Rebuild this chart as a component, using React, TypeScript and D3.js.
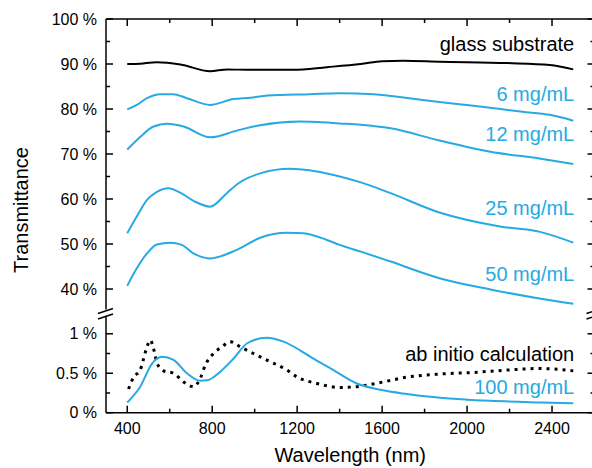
import React, { useRef, useEffect } from "react";
import * as d3 from "d3";

type Pt = [number, number];

// [wavelength nm, transmittance %]
const glassSubstrate: Pt[] = [
  [400, 90.0], [440, 90.0], [540, 90.4], [650, 89.9], [790, 88.4], [870, 88.8],
  [980, 88.7], [1180, 88.7], [1340, 89.3], [1500, 90.0], [1600, 90.6], [1700, 90.7],
  [1870, 90.5], [2190, 90.2], [2390, 89.8], [2500, 88.8],
];
const conc6: Pt[] = [
  [400, 79.9], [445, 80.9], [493, 82.4], [555, 83.3], [616, 83.3], [681, 82.4],
  [790, 80.9], [900, 82.2], [980, 82.5], [1060, 83.0], [1260, 83.3], [1400, 83.5],
  [1560, 83.3], [1790, 82.0], [2030, 80.7], [2260, 79.4], [2390, 78.7], [2500, 77.4],
];
const conc12: Pt[] = [
  [400, 71.0], [461, 73.8], [524, 76.1], [587, 76.7], [665, 76.1], [790, 73.7],
  [916, 75.2], [1026, 76.4], [1214, 77.2], [1300, 77.1], [1400, 76.8], [1500, 76.5],
  [1640, 75.7], [1870, 73.0], [2110, 70.5], [2340, 69.0], [2500, 67.8],
];
const conc25: Pt[] = [
  [400, 52.4], [445, 56.1], [493, 59.8], [540, 61.6], [594, 62.4], [649, 61.4],
  [712, 59.6], [790, 58.3], [869, 61.3], [924, 63.5], [1026, 65.7], [1167, 66.7],
  [1293, 66.1], [1400, 65.0], [1500, 63.7], [1640, 61.3], [1870, 57.0], [2155, 53.9],
  [2344, 52.7], [2500, 50.3],
];
const conc50: Pt[] = [
  [400, 40.7], [445, 44.6], [493, 47.9], [540, 49.9], [602, 50.3], [657, 49.8],
  [712, 47.9], [790, 46.8], [916, 48.7], [1026, 51.4], [1152, 52.5], [1230, 52.4],
  [1340, 50.9], [1400, 49.8], [1500, 48.3], [1640, 46.1], [1870, 42.4], [2110, 39.9],
  [2340, 37.9], [2500, 36.7],
];
const conc100: Pt[] = [
  [400, 0.13], [461, 0.33], [516, 0.62], [563, 0.71], [618, 0.67], [681, 0.5],
  [744, 0.405], [775, 0.41], [838, 0.52], [902, 0.69], [965, 0.88], [1057, 0.95],
  [1136, 0.9], [1214, 0.79], [1261, 0.71], [1371, 0.54], [1481, 0.37], [1591, 0.29],
  [1716, 0.237], [1873, 0.19], [2108, 0.15], [2344, 0.13], [2500, 0.12],
];
const abInitio: Pt[] = [
  [406, 0.3], [430, 0.45], [461, 0.54], [488, 0.79], [508, 0.92], [527, 0.78],
  [540, 0.63], [571, 0.53], [618, 0.5], [665, 0.39], [712, 0.33], [744, 0.435],
  [767, 0.6], [806, 0.75], [846, 0.835], [885, 0.9], [932, 0.835], [994, 0.75],
  [1057, 0.667], [1152, 0.54], [1198, 0.455], [1293, 0.37], [1402, 0.32], [1481, 0.33],
  [1606, 0.39], [1716, 0.45], [1873, 0.49], [2030, 0.51], [2187, 0.54], [2344, 0.56],
  [2500, 0.53],
];

const xMajor = [400, 800, 1200, 1600, 2000, 2400];
const xMinor = [600, 1000, 1400, 1800, 2200];
const upperMajor = [40, 50, 60, 70, 80, 90, 100];
const upperMinor = [45, 55, 65, 75, 85, 95];
const lowerMajor = [0, 0.5, 1];
const lowerMinor = [0.25, 0.75];

// label positions in data units: [text, value, blue?]
const upperLabels: [string, number, boolean][] = [
  ["glass substrate", 92.9, false],
  ["6 mg/mL", 81.8, true],
  ["12 mg/mL", 72.9, true],
  ["25 mg/mL", 56.4, true],
  ["50 mg/mL", 41.7, true],
];
const lowerLabels: [string, number, boolean][] = [
  ["ab initio calculation", 0.66, false],
  ["100 mg/mL", 0.235, true],
];

const BLUE = "#27aae1";
const FONT = "'Liberation Sans', Arial, sans-serif";

const App = () => {
  const svgRef = useRef<SVGSVGElement>(null);

  useEffect(() => {
    const width = 592, height = 468;
    const left = 106, right = 594.5, top = 19, bottom = 412.7;

    const svg = d3.select(svgRef.current)
      .attr("width", width)
      .attr("height", height)
      .style("font-family", FONT);
    svg.selectAll("*").remove();

    const x = d3.scaleLinear().domain([300, 2600]).range([left, right]);
    const yU = d3.scaleLinear().domain([36, 100]).range([307, top]);
    const yL = d3.scaleLinear().domain([0, 1.2]).range([bottom, 318]);

    const lineU = d3.line<Pt>().x(d => x(d[0])).y(d => yU(d[1])).curve(d3.curveMonotoneX);
    const lineL = d3.line<Pt>().x(d => x(d[0])).y(d => yL(d[1])).curve(d3.curveMonotoneX);

    // curves
    svg.append("path").attr("d", lineU(glassSubstrate)!).attr("fill", "none")
      .attr("stroke", "#000").attr("stroke-width", 2);
    [conc6, conc12, conc25, conc50].forEach(s => {
      svg.append("path").attr("d", lineU(s)!).attr("fill", "none")
        .attr("stroke", BLUE).attr("stroke-width", 2);
    });
    svg.append("path").attr("d", lineL(abInitio)!).attr("fill", "none")
      .attr("stroke", "#000").attr("stroke-width", 3).attr("stroke-dasharray", "3,5");
    svg.append("path").attr("d", lineL(conc100)!).attr("fill", "none")
      .attr("stroke", BLUE).attr("stroke-width", 2);

    // frame
    const g = svg.append("g").attr("stroke", "#000").attr("stroke-width", 1.5);
    g.append("line").attr("x1", left).attr("x2", right).attr("y1", top).attr("y2", top);
    g.append("line").attr("x1", left).attr("x2", right).attr("y1", bottom).attr("y2", bottom);
    [left, right].forEach(ax => {
      g.append("line").attr("x1", ax).attr("x2", ax).attr("y1", top).attr("y2", 309.5);
      g.append("line").attr("x1", ax).attr("x2", ax).attr("y1", 317).attr("y2", bottom);
      // break marks
      g.append("line").attr("x1", ax - 8).attr("x2", ax + 7).attr("y1", 313.5).attr("y2", 308.5);
      g.append("line").attr("x1", ax - 8).attr("x2", ax + 7).attr("y1", 319).attr("y2", 314);
    });

    // x ticks (bottom and top, inward)
    const tick = (x1: number, y1: number, x2: number, y2: number) =>
      g.append("line").attr("x1", x1).attr("y1", y1).attr("x2", x2).attr("y2", y2);
    xMajor.forEach(v => { tick(x(v), bottom, x(v), bottom - 7); tick(x(v), top, x(v), top + 7); });
    xMinor.forEach(v => { tick(x(v), bottom, x(v), bottom - 4); tick(x(v), top, x(v), top + 4); });

    // y ticks (left and right, inward)
    const yTicks = (ys: number[], len: number) => ys.forEach(yy => {
      tick(left, yy, left + len, yy);
      tick(right, yy, right - len, yy);
    });
    yTicks(upperMajor.map(yU), 7);
    yTicks(upperMinor.map(yU), 4);
    yTicks(lowerMajor.map(yL), 7);
    yTicks(lowerMinor.map(yL), 4);

    // tick labels
    xMajor.forEach(v => {
      svg.append("text").attr("x", x(v)).attr("y", 434).attr("text-anchor", "middle")
        .attr("font-size", 16).text(v);
    });
    const yLab = (v: number, yy: number) =>
      svg.append("text").attr("x", 97).attr("y", yy).attr("dy", "0.35em")
        .attr("text-anchor", "end").attr("font-size", 16).text(`${v} %`);
    upperMajor.forEach(v => yLab(v, yU(v)));
    lowerMajor.forEach(v => yLab(v, yL(v)));

    // axis titles
    svg.append("text").attr("x", (left + right) / 2).attr("y", 462)
      .attr("text-anchor", "middle").attr("font-size", 20).text("Wavelength (nm)");
    svg.append("text").attr("transform", "translate(28,210) rotate(-90)")
      .attr("text-anchor", "middle").attr("font-size", 20).text("Transmittance");

    // series labels
    const lx = x(2500) + 1;
    upperLabels.forEach(([t, v, blue]) => {
      svg.append("text").attr("x", lx).attr("y", yU(v)).attr("text-anchor", "end")
        .attr("font-size", 20).attr("fill", blue ? BLUE : "#000").text(t);
    });
    lowerLabels.forEach(([t, v, blue]) => {
      svg.append("text").attr("x", lx).attr("y", yL(v)).attr("text-anchor", "end")
        .attr("font-size", 20).attr("fill", blue ? BLUE : "#000").text(t);
    });
  }, []);

  return (
    <div style={{ position: "absolute", left: 0, top: 0, background: "#fff" }}>
      <svg ref={svgRef} style={{ display: "block" }}></svg>
    </div>
  );
};

export default App;
